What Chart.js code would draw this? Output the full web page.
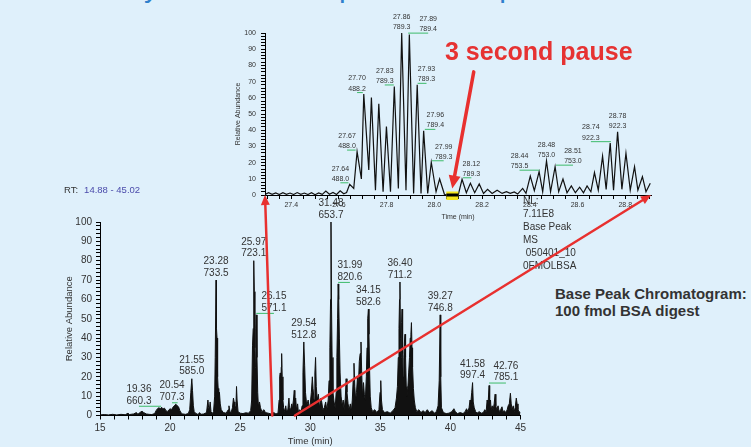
<!DOCTYPE html>
<html>
<head>
<meta charset="utf-8">
<title>Base Peak Chromatogram</title>
<script src="https://cdn.jsdelivr.net/npm/chart.js@4.4.1/dist/chart.umd.min.js"></script>
<style>
  html, body { margin: 0; padding: 0; }
  body { width: 751px; height: 447px; overflow: hidden; position: relative; background: #dff0fb;
         font-family: 'Liberation Sans', Arial, sans-serif; color: #333; }
  .abs { position: absolute; white-space: nowrap; }
  #slideTitle { left: 24px; top: -30px; font-size: 30px; line-height: 34px; color: #2f80cc; }
  #pauseText { left: 445px; top: 37px; font-size: 25px; line-height: 29px; font-weight: bold; color: #e63232; }
  #bpcText { left: 555px; top: 285px; font-size: 15px; line-height: 17px; font-weight: bold; color: #333; }
  #nlText { left: 523px; top: 194px; font-size: 10px; line-height: 13px; color: #333; }
  #rtText { left: 64px; top: 184px; font-size: 9.5px; line-height: 11px; color: #333; }
  #rtText span { color: #4b4bab; margin-left: 6px; }
</style>
</head>
<body>
<div id="slideTitle" class="abs">Sensitivity with Data Dependent Acquisition</div>

<canvas id="bottomChart" class="abs" width="490" height="257" style="left:40px;top:190px"></canvas>
<canvas id="topChart" class="abs" width="445" height="226" style="left:215px;top:0px"></canvas>

<div id="rtText" class="abs">RT:<span>14.88 - 45.02</span></div>
<div id="nlText" class="abs">NL:<br>7.11E8<br>Base Peak<br>MS<br>&nbsp;050401_10<br>0FMOLBSA</div>
<div id="bpcText" class="abs">Base Peak Chromatogram:<br>100 fmol BSA digest</div>
<div id="pauseText" class="abs">3 second pause</div>

<canvas id="overlay" class="abs" width="751" height="447" style="left:0;top:0;pointer-events:none"></canvas>

<script>
const FONT = "'Liberation Sans', Arial, sans-serif";

// zoomed window (time in min, relative abundance)
const topRange = [27.29, 28.908];
const topTrace = [
  [27.290,0.3],[27.305,1.4],[27.320,0.4],[27.335,1.3],[27.350,0.3],[27.365,1.4],[27.380,0.4],[27.395,1.2],
  [27.410,0.3],[27.425,1.5],[27.440,0.4],[27.455,1.2],[27.470,0.3],[27.485,1.4],[27.500,0.2],[27.515,1.3],
  [27.530,0.4],[27.545,2.5],[27.560,0.5],[27.575,1.6],[27.590,0.3],[27.605,2.6],[27.620,0.8],[27.632,1.5],
  [27.645,6.6],[27.662,4.1],[27.676,26.8],[27.694,9.9],[27.704,62.3],[27.725,15.5],[27.736,60.2],[27.753,3],
  [27.767,56.3],[27.785,2],[27.799,42.2],[27.816,2],[27.832,67],[27.849,4],[27.863,100],[27.881,3],
  [27.895,99],[27.913,1],[27.928,68],[27.944,1],[27.955,39.6],[27.972,1],[27.987,20.2],[28.007,2],
  [28.022,9.9],[28.042,0.5],[28.050,0],[28.100,0],
  [28.116,9.7],[28.134,1.4],[28.151,7.2],[28.169,1.4],[28.188,6.8],[28.206,1],[28.223,3.5],[28.242,1],
  [28.263,3],[28.284,1],[28.302,2],[28.318,1],[28.335,1.9],[28.349,0.6],[28.370,4.1],[28.384,1],
  [28.402,11.7],[28.419,2.7],[28.439,14.4],[28.454,2],[28.470,21],[28.487,2],[28.506,17.5],[28.521,2],
  [28.539,9.9],[28.556,1.4],[28.574,5.6],[28.591,1.4],[28.609,4.8],[28.625,1.4],[28.640,5.6],[28.656,2],
  [28.671,13.8],[28.687,3],[28.705,24],[28.720,3.5],[28.737,32],[28.751,3],[28.768,39],[28.786,3.5],
  [28.803,25.8],[28.821,3],[28.839,17.5],[28.853,3],[28.872,11.3],[28.887,2],[28.905,7.2]
];
const pauseRange = [28.05, 28.10];
const pauseArrowFrom = [28.165, 76];
const pauseArrowTo = [28.075, 4];

const topLabelTime = ['27.64','27.67','27.70','27.83','27.86','27.89','27.93','27.96','27.99','28.12','28.44','28.48','28.51','28.74','28.78'];
const topLabelMz   = ['488.0','488.0','488.2','789.3','789.3','789.4','789.3','789.4','789.3','789.3','753.5','753.0','753.0','922.3','922.3'];
const topLabelAt   = [27.606, 27.634, 27.676, 27.792, 27.863, 27.974, 27.967, 28.004, 28.039, 28.155, 28.357, 28.470, 28.581, 28.656, 28.768];
const topLabelApex = [6.6, 26.8, 62.3, 67, 100, 99, 68, 39.6, 20.2, 9.7, 14.4, 21, 17.5, 32, 39];

// full run
const bottomRange = [15, 45];
const bottomTrace = [
  [15.0,0.3],[15.3,0.5],[15.6,0.3],[15.9,0.6],[16.2,0.3],[16.5,0.6],[16.8,0.4],[17.0,1.2],[17.1,0.5],[17.4,0.8],
  [17.6,1.5],[17.7,0.6],[17.9,1.8],[18.0,2.2],[18.1,1.6],[18.3,0.8],[18.5,0.6],[18.7,0.5],[18.9,1.0],[19.0,2.5],
  [19.1,3.5],[19.2,4.0],[19.3,3.6],[19.4,4.2],[19.5,3.4],[19.6,3.8],[19.7,2.6],[19.8,2.0],[19.9,2.8],[20.0,3.5],
  [20.1,3.0],[20.2,4.2],[20.3,5.0],[20.4,5.8],[20.5,5.2],[20.6,4.5],[20.7,2.5],[20.8,1.2],[20.9,0.8],[21.1,0.6],
  [21.3,1.0],[21.4,3.0],[21.48,12],[21.55,19],[21.6,13],[21.66,5],[21.72,2],[21.85,1],[22.0,0.5],[22.1,1.5],
  [22.2,0.6],[22.4,0.8],[22.6,1.5],[22.7,8],[22.75,4],[22.8,3],[22.86,7],[22.92,2],[23.0,1],[23.1,2],
  [23.18,10],[23.22,30],[23.28,70],[23.31,45],[23.35,40],[23.39,20],[23.43,14],[23.47,6],[23.52,12],[23.58,6],
  [23.65,3],[23.8,1.5],[24.0,1.2],[24.15,3],[24.2,5],[24.27,2],[24.35,1.5],[24.45,4],[24.52,9],[24.57,7],
  [24.62,3],[24.7,5],[24.74,15],[24.78,8],[24.85,2],[25.0,1.2],[25.2,1],[25.4,1.4],[25.6,1.2],[25.75,2.5],
  [25.82,8],[25.88,36],[25.93,45],[25.97,80],[26.01,64],[26.05,35],[26.09,25],[26.12,45],[26.15,52],[26.2,30],
  [26.25,12],[26.3,5],[26.38,7],[26.45,4],[26.55,2],[26.7,3],[26.8,1.5],[27.0,1.2],[27.2,0.8],[27.4,1.5],
  [27.55,0.8],[27.7,1.2],[27.78,8],[27.82,20],[27.86,22],[27.9,12],[27.93,25],[27.96,32],[28.0,20],[28.05,8],
  [28.1,4],[28.18,2],[28.25,5],[28.3,2.5],[28.4,3],[28.48,9],[28.52,4],[28.6,3],[28.68,6],[28.72,3],
  [28.8,8],[28.86,13],[28.9,6],[28.96,9],[29.02,3],[29.1,6],[29.15,2],[29.25,3],[29.35,2],[29.42,5],
  [29.48,22],[29.54,38],[29.6,26],[29.66,12],[29.75,5],[29.85,8],[29.92,4],[30.0,6],[30.08,12],[30.15,20],
  [30.2,14],[30.27,8],[30.33,22],[30.38,30],[30.43,15],[30.5,8],[30.58,11],[30.65,4],[30.75,9],[30.82,7],
  [30.9,3],[31.0,4],[31.1,7],[31.18,3],[31.28,8],[31.34,18],[31.4,35],[31.45,60],[31.48,100],[31.52,55],
  [31.56,30],[31.62,12],[31.7,7],[31.78,4],[31.85,12],[31.9,30],[31.95,50],[31.99,68],[32.03,60],[32.08,40],
  [32.13,22],[32.2,10],[32.28,5],[32.35,8],[32.42,3],[32.5,9],[32.56,19],[32.62,12],[32.7,6],[32.78,3],
  [32.86,6],[32.93,2],[33.0,8],[33.06,18],[33.12,27],[33.18,15],[33.24,8],[33.3,12],[33.37,20],[33.43,14],
  [33.5,28],[33.56,32],[33.62,38],[33.67,22],[33.73,10],[33.8,17],[33.86,11],[33.93,8],[34.0,20],[34.05,35],
  [34.1,50],[34.15,55],[34.19,42],[34.23,25],[34.28,10],[34.35,4],[34.45,2],[34.6,3],[34.75,1.5],[34.9,3],
  [34.98,12],[35.03,18],[35.08,8],[35.15,3],[35.3,1.5],[35.5,2],[35.7,1.2],[35.9,2.5],[36.05,4],[36.15,9],
  [36.22,15],[36.28,30],[36.33,45],[36.37,60],[36.4,69],[36.44,40],[36.48,30],[36.52,48],[36.55,55],[36.59,32],
  [36.63,20],[36.68,30],[36.72,38],[36.76,42],[36.8,30],[36.85,15],[36.9,10],[36.96,14],[37.02,22],[37.08,30],
  [37.13,40],[37.18,42],[37.22,48],[37.26,35],[37.3,25],[37.36,14],[37.42,8],[37.5,4],[37.6,2],[37.75,3],
  [37.9,1.5],[38.05,2.5],[38.2,1.5],[38.35,3],[38.5,1.5],[38.7,2.5],[38.85,1.2],[39.0,2],[39.12,5],[39.2,18],
  [39.27,52],[39.31,20],[39.36,4],[39.5,1.5],[39.7,1],[39.9,1.2],[40.1,2],[40.25,3.5],[40.35,2],[40.5,1],
  [40.7,1.5],[40.9,1],[41.05,2],[41.15,3.5],[41.25,2],[41.33,4],[41.4,8],[41.45,6],[41.52,12],[41.58,17],
  [41.63,7],[41.7,4],[41.8,2],[41.9,1.2],[42.05,2],[42.2,1.2],[42.35,1.5],[42.45,3],[42.55,2],[42.62,8],
  [42.68,5],[42.76,15.5],[42.8,6],[42.86,8],[42.9,3],[42.98,5],[43.05,3],[43.12,6],[43.19,11],[43.24,5],
  [43.3,3],[43.4,5],[43.48,2],[43.58,3],[43.68,4.5],[43.75,2],[43.85,2.5],[43.95,1.5],[44.05,3],[44.12,5],
  [44.2,6],[44.28,11.5],[44.34,6],[44.4,3],[44.48,5],[44.55,2],[44.62,4],[44.7,9],[44.76,6],[44.82,3],
  [44.9,2],[45.0,1.5]
];

const bottomLabelTime = ['19.36','20.54','21.55','23.28','25.97','26.15','29.54','31.48','31.99','34.15','36.40','39.27','41.58','42.76'];
const bottomLabelMz   = ['660.3','707.3','585.0','733.5','723.1','571.1','512.8','653.7','820.6','582.6','711.2','746.8','997.4','785.1'];
const bottomLabelAt   = [17.78, 20.14, 21.55, 23.28, 25.97, 27.41, 29.54, 31.48, 32.83, 34.15, 36.40, 39.27, 41.58, 43.96];
const bottomLabelApex = [4, 5.8, 19, 70, 80, 52, 38, 100, 68, 55, 69, 52, 17, 16];

function isMultiple(v, step) {
    const q = v / step;
    return Math.abs(q - Math.round(q)) < 1e-6;
}

function peakLabels(id, times, mzs, at, apex, size, gap1, gap2) {
    return {
        id: id,
        afterDatasetsDraw(chart) {
            const ctx = chart.ctx;
            const x = chart.scales.x, y = chart.scales.y;
            ctx.save();
            ctx.font = size + 'px ' + FONT;
            ctx.textAlign = 'center';
            ctx.textBaseline = 'middle';
            for (let i = 0; i < times.length; i++) {
                const px = x.getPixelForValue(at[i]);
                const py = y.getPixelForValue(apex[i]);
                const peakX = x.getPixelForValue(parseFloat(times[i]));
                if (Math.abs(peakX - px) > 4) {
                    ctx.strokeStyle = '#3dbb6a';
                    ctx.lineWidth = 1;
                    ctx.beginPath();
                    ctx.moveTo(px, py - 1.5);
                    ctx.lineTo(peakX, py - 1.5);
                    ctx.stroke();
                }
                ctx.fillStyle = '#333';
                ctx.fillText(times[i], px, py - gap1);
                ctx.fillText(mzs[i], px, py - gap2);
            }
            ctx.restore();
        }
    };
}

const pauseBox = {
    id: 'pauseBox',
    afterDraw(chart) {
        const ctx = chart.ctx;
        const x1 = chart.scales.x.getPixelForValue(pauseRange[0]);
        const x2 = chart.scales.x.getPixelForValue(pauseRange[1]);
        const y0 = chart.scales.y.getPixelForValue(0);
        ctx.save();
        ctx.fillStyle = '#f5e51b';
        ctx.fillRect(x1, y0 - 3.5, x2 - x1, 8.5);
        ctx.strokeStyle = '#000';
        ctx.lineWidth = 3;
        ctx.beginPath();
        ctx.moveTo(x1, y0);
        ctx.lineTo(x2, y0);
        ctx.stroke();
        ctx.restore();
    }
};

function axis(o) {
    return {
        type: 'linear',
        min: o.min,
        max: o.max,
        ticks: {
            stepSize: o.step,
            autoSkip: false,
            maxRotation: 0,
            includeBounds: false,
            padding: o.pad,
            color: '#333',
            font: { size: o.font, family: FONT },
            callback: v => isMultiple(v, o.major) ? (o.fixed ? v.toFixed(o.fixed) : String(v)) : ''
        },
        grid: { drawOnChartArea: false, drawTicks: true, tickLength: 4, color: '#000', lineWidth: 1 },
        border: { display: true, color: '#000', width: 1 },
        title: {
            display: true, text: o.title, color: '#333',
            font: { size: o.titleFont, family: FONT },
            padding: o.titlePad
        },
        afterFit: o.fit
    };
}

function traceChart(canvasId, trace, xr, fill, sizes, plugins) {
    return new Chart(document.getElementById(canvasId), {
        type: 'line',
        data: {
            datasets: [{
                data: trace.map(p => ({ x: p[0], y: p[1] })),
                borderColor: '#111',
                backgroundColor: '#111',
                borderWidth: sizes.line,
                pointRadius: 0,
                tension: 0,
                fill: fill ? 'origin' : false
            }]
        },
        options: {
            responsive: false,
            animation: false,
            events: [],
            layout: { padding: sizes.padding },
            plugins: { legend: { display: false }, tooltip: { enabled: false } },
            scales: {
                x: axis({ min: xr[0], max: xr[1], step: sizes.xStep, major: sizes.xMajor, fixed: sizes.xFixed,
                          pad: sizes.xPad, font: sizes.tick, title: 'Time (min)', titleFont: sizes.title,
                          titlePad: { top: 0, bottom: sizes.xTitlePad },
                          fit: s => { s.height = sizes.xHeight; } }),
                y: axis({ min: 0, max: 100, step: 2, major: 10, fixed: 0,
                          pad: sizes.yPad, font: sizes.tick, title: 'Relative Abundance', titleFont: sizes.title,
                          titlePad: { top: sizes.yTitlePad, bottom: 0 },
                          fit: s => { s.width = sizes.yWidth; } })
            }
        },
        plugins: plugins
    });
}

const bottomChart = traceChart('bottomChart', bottomTrace, bottomRange, true, {
    line: 1, padding: { top: 32, right: 9.5, left: 0, bottom: 0 },
    xStep: 1, xMajor: 5, xFixed: 0, xPad: 3, tick: 10, title: 9.5, xTitlePad: 0, xHeight: 31.5,
    yPad: 4, yTitlePad: 24, yWidth: 60
}, [peakLabels('bottomLabels', bottomLabelTime, bottomLabelMz, bottomLabelAt, bottomLabelApex, 10, 18.7, 7)]);

const topChart = traceChart('topChart', topTrace, topRange, false, {
    line: 1.2, padding: { top: 33, right: 9, left: 0, bottom: 0 },
    xStep: 0.05, xMajor: 0.2, xFixed: 1, xPad: 2, tick: 7, title: 7, xTitlePad: 4.5, xHeight: 31,
    yPad: 5, yTitlePad: 19, yWidth: 50
}, [pauseBox, peakLabels('topLabels', topLabelTime, topLabelMz, topLabelAt, topLabelApex, 7, 15.7, 5.5)]);

// red arrows linking the zoom window and pointing at the pause
function pagePoint(chart, t, v) {
    return [chart.canvas.offsetLeft + chart.scales.x.getPixelForValue(t),
            chart.canvas.offsetTop + chart.scales.y.getPixelForValue(v)];
}

function arrow(ctx, a, b, width, head, half) {
    const ang = Math.atan2(b[1] - a[1], b[0] - a[0]);
    const hx = b[0] - head * Math.cos(ang), hy = b[1] - head * Math.sin(ang);
    ctx.lineWidth = width;
    ctx.beginPath();
    ctx.moveTo(a[0], a[1]);
    ctx.lineTo(hx, hy);
    ctx.stroke();
    ctx.beginPath();
    ctx.moveTo(b[0], b[1]);
    ctx.lineTo(hx + half * Math.sin(ang), hy - half * Math.cos(ang));
    ctx.lineTo(hx - half * Math.sin(ang), hy + half * Math.cos(ang));
    ctx.closePath();
    ctx.fill();
}

const octx = document.getElementById('overlay').getContext('2d');
octx.strokeStyle = '#e8302f';
octx.fillStyle = '#e8302f';
octx.lineCap = 'round';
arrow(octx, pagePoint(bottomChart, topRange[0], 0), pagePoint(topChart, topRange[0], 0), 2.5, 10, 4.5);
arrow(octx, pagePoint(bottomChart, topRange[1], 0), pagePoint(topChart, topRange[1], 0), 2.5, 10, 4.5);
arrow(octx, pagePoint(topChart, pauseArrowFrom[0], pauseArrowFrom[1]), pagePoint(topChart, pauseArrowTo[0], pauseArrowTo[1]), 3.5, 13, 6);
</script>
</body>
</html>
